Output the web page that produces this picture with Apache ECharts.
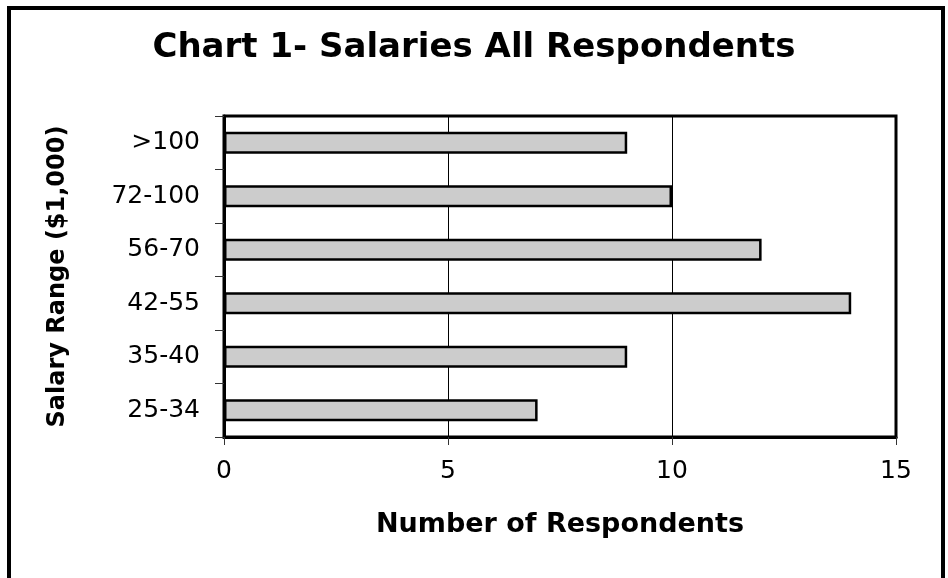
<!DOCTYPE html>
<html>
<head>
<meta charset="utf-8">
<script src="https://cdn.jsdelivr.net/npm/echarts@6/dist/echarts.min.js"></script>
<style>
html,body{margin:0;padding:0;background:#fff;}
#c{width:948px;height:578px;}
</style>
</head>
<body>
<div id="c"></div>
<script>
const titleText = 'Chart 1- Salaries All Respondents';
const categories = ['25-34', '35-40', '42-55', '56-70', '72-100', '>100'];
const respondents = [7, 9, 14, 12, 10, 9];
const xTicks = [0, 5, 10, 15];
const xAxisName = 'Number of Respondents';
const yAxisName = 'Salary Range ($1,000)';

const chart = echarts.init(document.getElementById('c'), null, {renderer: 'canvas'});
const font = 'DejaVu Sans';
chart.setOption({
  animation: false,
  backgroundColor: '#ffffff',
  title: {
    text: titleText,
    left: 'center',
    top: 31,
    padding: 0,
    textStyle: {fontFamily: font, fontWeight: 'bold', fontSize: 34, color: '#000'}
  },
  graphic: [{
    type: 'rect',
    shape: {x: 9, y: 8, width: 934, height: 700},
    style: {fill: 'none', stroke: '#000', lineWidth: 4},
    silent: true,
    z: 100
  }],
  grid: {
    left: 224, right: 52, top: 116, bottom: 141,
    show: true, borderColor: '#000', borderWidth: 3, backgroundColor: '#fff'
  },
  xAxis: {
    type: 'value',
    min: xTicks[0], max: xTicks[xTicks.length - 1], interval: 5,
    name: xAxisName,
    nameLocation: 'middle',
    nameGap: 74,
    nameTextStyle: {fontFamily: font, fontWeight: 'bold', fontSize: 27, color: '#000'},
    axisLine: {show: true, lineStyle: {color: '#000', width: 3}},
    axisTick: {show: true, length: 8, lineStyle: {color: '#333', width: 1}},
    axisLabel: {fontFamily: font, fontSize: 25, color: '#000', margin: 22},
    splitLine: {show: true, lineStyle: {color: '#000', width: 1}}
  },
  yAxis: {
    type: 'category',
    data: categories,
    name: yAxisName,
    nameLocation: 'middle',
    nameGap: 154,
    nameTextStyle: {fontFamily: font, fontWeight: 'bold', fontSize: 24, color: '#000'},
    axisLine: {show: true, lineStyle: {color: '#000', width: 3}},
    axisTick: {show: true, length: 9, lineStyle: {color: '#333', width: 1}},
    axisLabel: {fontFamily: font, fontSize: 25, color: '#000', margin: 24},
    splitLine: {show: false}
  },
  series: [{
    type: 'bar',
    data: respondents,
    barWidth: 22,
    itemStyle: {color: '#cccccc', borderColor: '#000', borderWidth: 2.5},
    z: 3
  }]
});
</script>
</body>
</html>
